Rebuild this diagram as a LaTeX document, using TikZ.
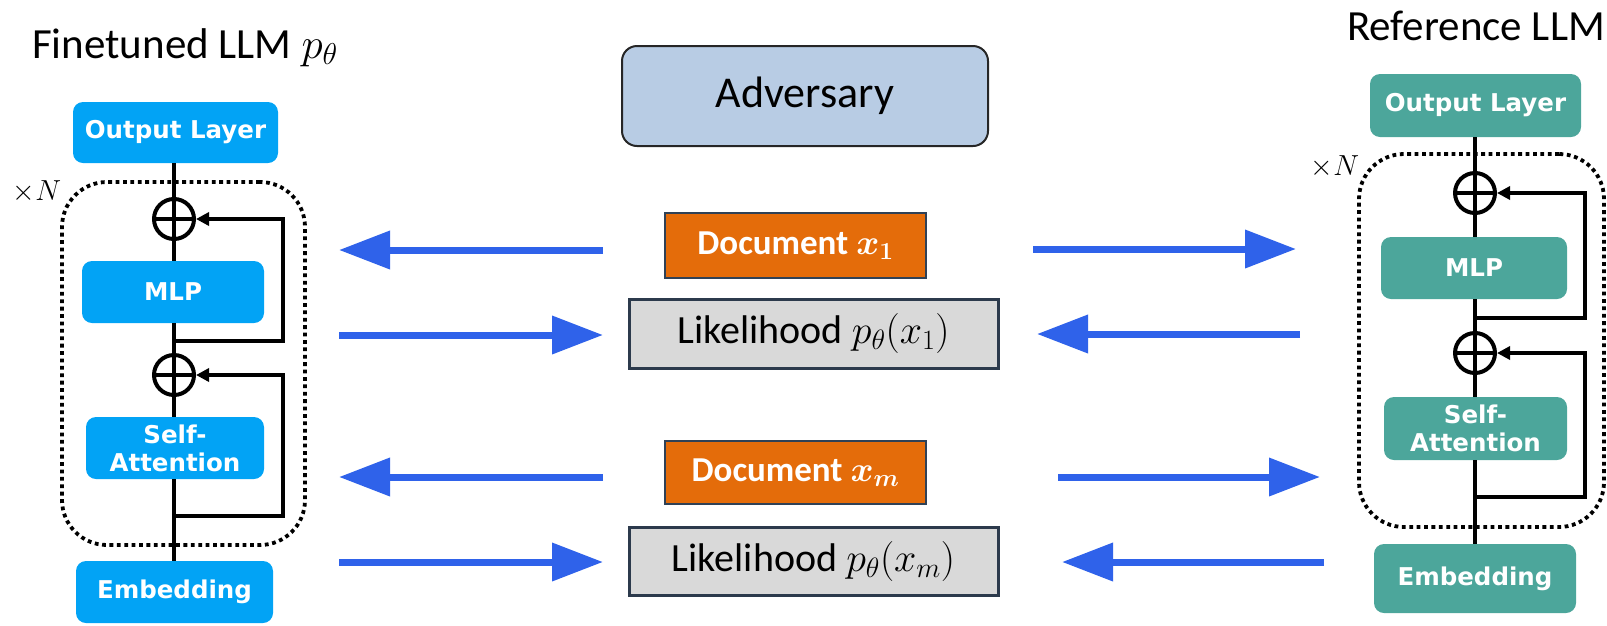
\RequirePackage{fix-cm}
\documentclass[tikz,border=0pt]{standalone}
\usepackage{fontspec}
\setmainfont{Carlito}
\newfontfamily\blockfont{DejaVu Sans}
\usetikzlibrary{arrows.meta,calc}

\definecolor{ftblue}{HTML}{02A3F5}
\definecolor{refteal}{HTML}{4CA69B}
\definecolor{docorange}{HTML}{E46C0A}
\definecolor{docedge}{HTML}{2F4156}
\definecolor{likegray}{HTML}{D9D9D9}
\definecolor{likeedge}{HTML}{2C3A4C}
\definecolor{advfill}{HTML}{B8CCE4}
\definecolor{flowblue}{HTML}{2F62EA}

\tikzset{
  layer/.style={rounded corners=10pt, inner sep=0pt, text=white,
    font=\blockfont\bfseries\fontsize{24.5}{28}\selectfont, align=center},
  ftlayer/.style={layer, fill=ftblue},
  reflayer/.style={layer, fill=refteal},
  adder/.style={circle, draw, line width=4pt, minimum size=40pt, inner sep=0pt},
  wire/.style={line width=4pt},
  feedback/.style={line width=4pt, -{Triangle[length=13pt,width=13pt]}},
  loopbox/.style={draw, line width=3.8pt, dash pattern=on 3.8pt off 3.6pt,
    rounded corners=45pt, inner sep=0pt},
  flow/.style={draw=flowblue, line width=7pt, -{Triangle[length=51pt,width=37pt]}},
  advbox/.style={fill=advfill, draw=black!85, line width=2pt, rounded corners=15pt,
    font=\fontsize{44}{50}\selectfont, inner sep=0pt},
  docbox/.style={fill=docorange, draw=docedge, line width=2.5pt, text=white,
    font=\fontsize{35}{40}\selectfont\bfseries\boldmath, inner sep=0pt},
  likebox/.style={fill=likegray, draw=likeedge, line width=3pt,
    font=\fontsize{40}{46}\selectfont, inner sep=0pt},
  title/.style={font=\fontsize{43}{50}\selectfont, inner sep=0pt},
  repeat/.style={font=\fontsize{29}{33}\selectfont, inner sep=0pt},
}

\begin{document}
\begin{tikzpicture}[x=1pt, y=-1pt]
\useasboundingbox (0,0) rectangle (1607,625);

% ---------- finetuned model ----------
\node[title, anchor=base west] (ftTitle) at (32,58) {Finetuned LLM $p_\theta$};
\node[loopbox, minimum width=243pt, minimum height=363pt] (loopL) at (183.5,363.5) {};
\node[repeat] (repL) at (37,192) {$\times N$};
\node[ftlayer, minimum width=205pt, minimum height=61pt] (outL) at (175.5,132.5) {Output Layer};
\node[ftlayer, minimum width=182pt, minimum height=62pt] (mlpL) at (173,292) {MLP};
\node[ftlayer, minimum width=178pt, minimum height=62pt] (attL) at (175,448) {Self-\\Attention};
\node[ftlayer, minimum width=197pt, minimum height=62pt] (embL) at (174.5,592) {Embedding};
\node[adder] (addL1) at (174,219) {};
\node[adder] (addL2) at (174,375) {};

\draw[wire] (addL1 |- outL.south) -- (addL1.north);
\draw[wire] (addL1.south) -- (addL1 |- mlpL.north);
\draw[wire] (addL2 |- mlpL.south) -- (addL2.north);
\draw[wire] (addL2.south) -- (addL2 |- attL.north);
\draw[wire] (addL2 |- attL.south) -- (addL2 |- embL.north);
\draw[wire] (addL1.north) -- (addL1.south) (addL1.west) -- (addL1.east);
\draw[wire] (addL2.north) -- (addL2.south) (addL2.west) -- (addL2.east);

\coordinate (jL1) at (174,341);
\coordinate (cL1) at (283,219);
\coordinate (jL2) at (174,516);
\coordinate (cL2) at (283,375);
\draw[feedback] (jL1) -| (cL1) -- (addL1.east);
\draw[feedback] (jL2) -| (cL2) -- (addL2.east);

% ---------- reference model ----------
\node[title, anchor=base east] (refTitle) at (1605,40) {Reference LLM};
\node[loopbox, minimum width=245pt, minimum height=373pt] (loopR) at (1481.5,340.5) {};
\node[repeat] (repR) at (1335,167) {$\times N$};
\node[reflayer, minimum width=211pt, minimum height=63pt] (outR) at (1475.5,105.5) {Output Layer};
\node[reflayer, minimum width=186pt, minimum height=62pt] (mlpR) at (1474,268) {MLP};
\node[reflayer, minimum width=183pt, minimum height=63pt] (attR) at (1475.5,428.5) {Self-\\Attention};
\node[reflayer, minimum width=202pt, minimum height=69pt] (embR) at (1475,578.5) {Embedding};
\node[adder] (addR1) at (1475,193) {};
\node[adder] (addR2) at (1475,353) {};

\draw[wire] (addR1 |- outR.south) -- (addR1.north);
\draw[wire] (addR1.south) -- (addR1 |- mlpR.north);
\draw[wire] (addR2 |- mlpR.south) -- (addR2.north);
\draw[wire] (addR2.south) -- (addR2 |- attR.north);
\draw[wire] (addR2 |- attR.south) -- (addR2 |- embR.north);
\draw[wire] (addR1.north) -- (addR1.south) (addR1.west) -- (addR1.east);
\draw[wire] (addR2.north) -- (addR2.south) (addR2.west) -- (addR2.east);

\coordinate (jR1) at (1475,318);
\coordinate (cR1) at (1585,193);
\coordinate (jR2) at (1475,497);
\coordinate (cR2) at (1585,353);
\draw[feedback] (jR1) -| (cR1) -- (addR1.east);
\draw[feedback] (jR2) -| (cR2) -- (addR2.east);

% ---------- adversary and queries ----------
\node[advbox, minimum width=366pt, minimum height=100pt] (adv) at (805,96) {Adversary};
\node[docbox, minimum width=261pt, minimum height=65pt] (doc1) at (795.5,245.5) {Document $x_1$};
\node[likebox, minimum width=369pt, minimum height=69pt] (lik1) at (813.5,333.5) {Likelihood $p_\theta(x_1)$};
\node[docbox, minimum width=261pt, minimum height=63pt] (docm) at (795.5,472.5) {Document $x_m$};
\node[likebox, minimum width=369pt, minimum height=68pt] (likm) at (813.5,561) {Likelihood $p_\theta(x_m)$};

% ---------- flow arrows ----------
\coordinate (q1a) at (603,250);  \coordinate (q1b) at (339,250);
\coordinate (q1c) at (1033,249); \coordinate (q1d) at (1296,249);
\coordinate (r1a) at (339,335);  \coordinate (r1b) at (603,335);
\coordinate (r1c) at (1300,334); \coordinate (r1d) at (1037,334);
\coordinate (qma) at (603,477);  \coordinate (qmb) at (339,477);
\coordinate (qmc) at (1058,477); \coordinate (qmd) at (1320,477);
\coordinate (rma) at (339,562);  \coordinate (rmb) at (603,562);
\coordinate (rmc) at (1324,562); \coordinate (rmd) at (1062,562);

\draw[flow] (q1a) -- (q1b);
\draw[flow] (q1c) -- (q1d);
\draw[flow] (r1a) -- (r1b);
\draw[flow] (r1c) -- (r1d);
\draw[flow] (qma) -- (qmb);
\draw[flow] (qmc) -- (qmd);
\draw[flow] (rma) -- (rmb);
\draw[flow] (rmc) -- (rmd);
\end{tikzpicture}
\end{document}
